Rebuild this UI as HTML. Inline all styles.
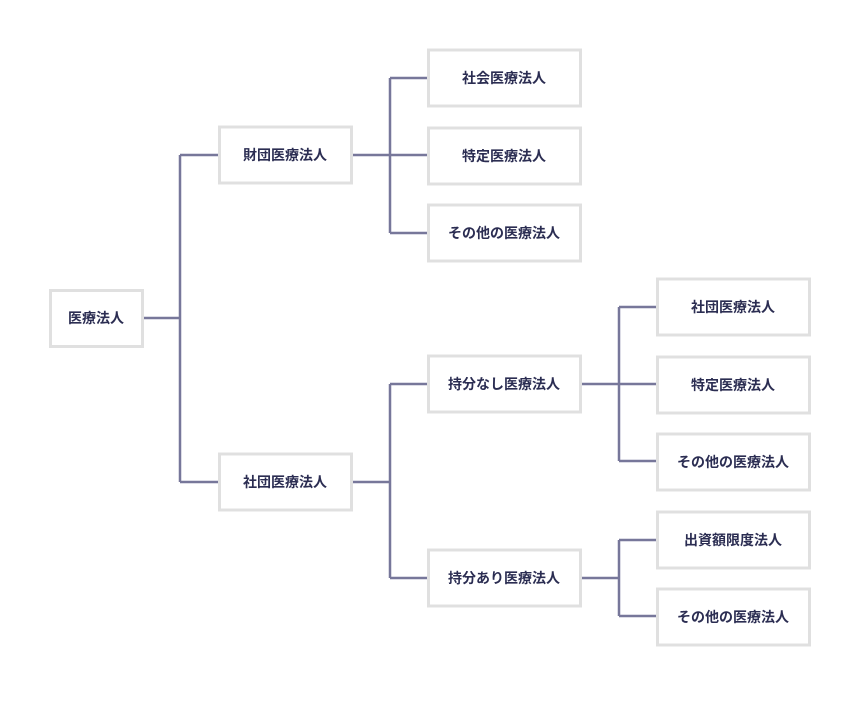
<!DOCTYPE html>
<html><head><meta charset="utf-8"><style>
html,body{margin:0;padding:0;background:#fff;}
svg text{font-family:"Liberation Sans","Noto Sans CJK JP",sans-serif;font-size:14px;font-weight:bold;fill:#2b2d52;text-anchor:middle;dominant-baseline:central;}
</style></head><body>
<svg width="860" height="700" viewBox="0 0 860 700" xmlns="http://www.w3.org/2000/svg">
<g stroke="#77779a" stroke-width="2.5" fill="none">
<path d="M144 318H180M180 155V482M180 155H218M180 482H218"/>
<path d="M353 155H427M390 78V233M390 78H427M390 233H427"/>
<path d="M353 482H390M390 384V578M390 384H427M390 578H427"/>
<path d="M582 384H656M619 307V461M619 307H656M619 461H656"/>
<path d="M582 578H619M619 540V616M619 540H656M619 616H656"/>
</g>
<g fill="#fff" stroke="#e0e0e0" stroke-width="3">
<rect x="50.5" y="290.5" width="92" height="56"/>
<rect x="219.5" y="127" width="132" height="56"/>
<rect x="219.5" y="454" width="132" height="56"/>
<rect x="428.5" y="50" width="152" height="56"/>
<rect x="428.5" y="128" width="152" height="56"/>
<rect x="428.5" y="205" width="152" height="56"/>
<rect x="428.5" y="356" width="152" height="56"/>
<rect x="428.5" y="550" width="152" height="56"/>
<rect x="657.5" y="279" width="152" height="56"/>
<rect x="657.5" y="357" width="152" height="56"/>
<rect x="657.5" y="434" width="152" height="56"/>
<rect x="657.5" y="512" width="152" height="56"/>
<rect x="657.5" y="589" width="152" height="56"/>
</g>
<text x="96" y="318">医療法人</text>
<text x="285" y="155">財団医療法人</text>
<text x="285" y="482">社団医療法人</text>
<text x="504" y="78">社会医療法人</text>
<text x="504" y="156">特定医療法人</text>
<text x="504" y="233">その他の医療法人</text>
<text x="504" y="384">持分なし医療法人</text>
<text x="504" y="578">持分あり医療法人</text>
<text x="733" y="307">社団医療法人</text>
<text x="733" y="385">特定医療法人</text>
<text x="733" y="462">その他の医療法人</text>
<text x="733" y="540">出資額限度法人</text>
<text x="733" y="617">その他の医療法人</text>
</svg>
</body></html>
